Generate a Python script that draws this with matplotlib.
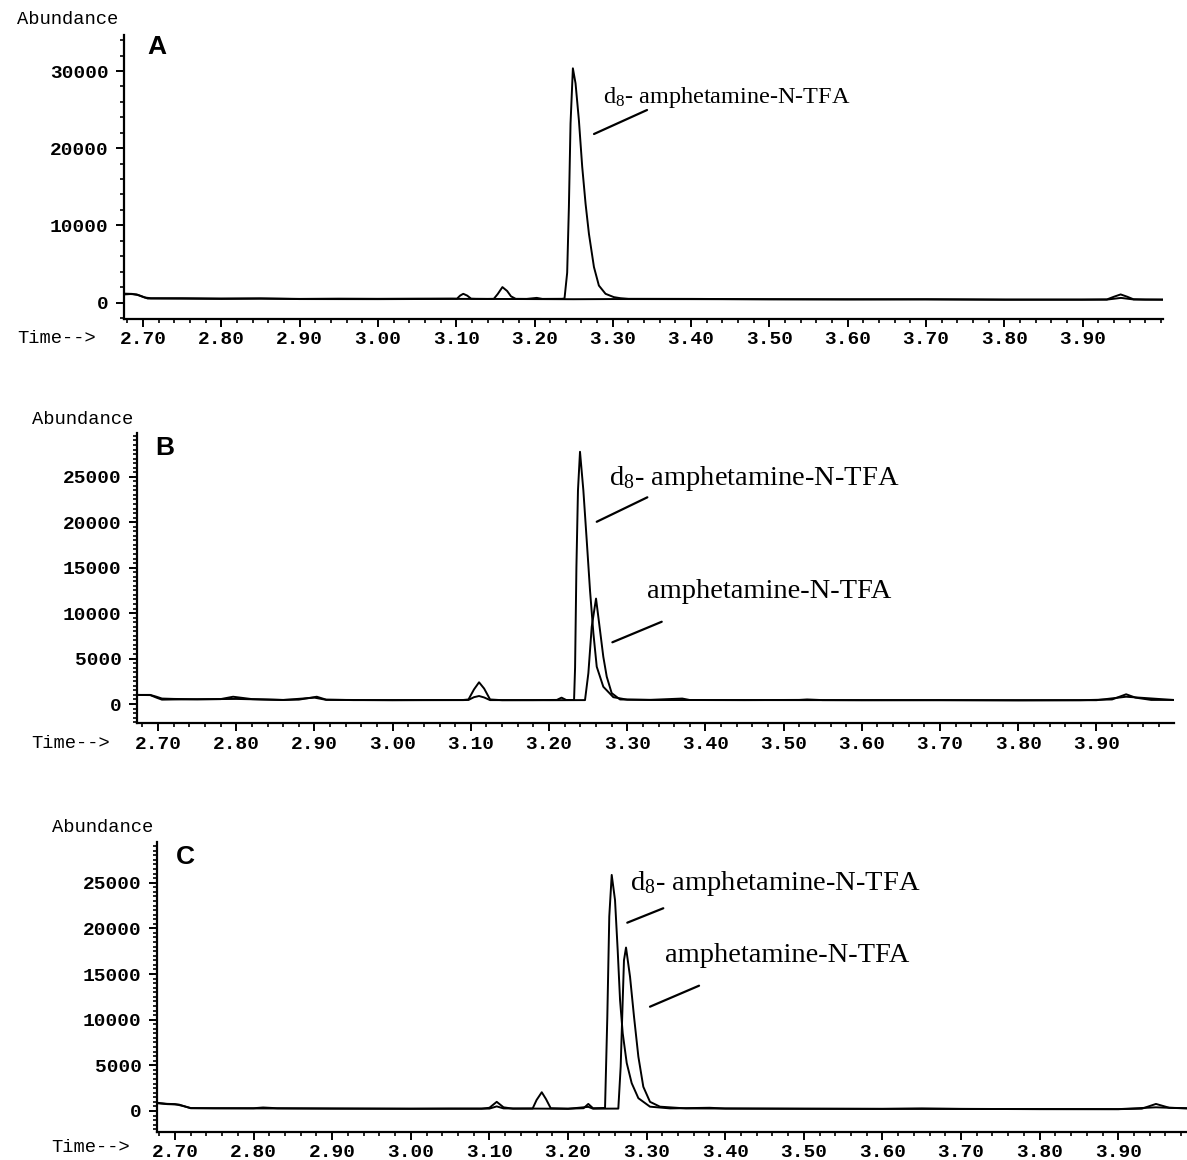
import matplotlib
matplotlib.use('Agg')
import matplotlib.pyplot as plt
from matplotlib.ticker import FixedLocator, MultipleLocator

plt.rcParams['mathtext.fontset'] = 'custom'
plt.rcParams['mathtext.rm'] = 'Liberation Serif'
plt.rcParams['mathtext.it'] = 'Liberation Serif:italic'

x_ticks = [2.70, 2.80, 2.90, 3.00, 3.10, 3.20, 3.30, 3.40, 3.50, 3.60, 3.70, 3.80, 3.90]

# painel A
a_time_1 = [2.676, 2.686, 2.694, 2.702, 2.71, 2.75, 2.80, 2.85, 2.90, 2.95, 3.00, 3.05, 3.095,
            3.101, 3.105, 3.109, 3.114, 3.119, 3.125, 3.14, 3.148, 3.153, 3.159, 3.165, 3.170,
            3.176, 3.19, 3.2028, 3.21, 3.235, 3.2383, 3.2417, 3.2439, 3.2460, 3.2490, 3.2524,
            3.2567, 3.2609, 3.2652, 3.2695, 3.2759, 3.2822, 3.2907, 3.3013, 3.3098, 3.32, 3.40,
            3.50, 3.60, 3.70, 3.80, 3.90, 3.931, 3.940, 3.9486, 3.957, 3.965, 3.98, 4.002]
a_abund_1 = [1150, 1120, 950, 650, 560, 560, 520, 540, 470, 500, 480, 500, 510,
             500, 900, 1130, 900, 500, 480, 470, 480, 1100, 2000, 1500, 800,
             480, 470, 600, 470, 480, 520, 3860, 12380, 23200, 30350, 28400,
             23600, 17600, 12800, 8900, 4600, 2200, 1130, 700, 560, 480, 470,
             430, 420, 420, 380, 380, 400, 750, 1050, 750, 420, 380, 380]
a_time_2 = [2.676, 2.684, 2.692, 2.700, 2.706, 2.75, 2.80, 2.85, 2.90, 3.00, 3.10, 3.16, 3.25,
            3.30, 3.40, 3.50, 3.60, 3.70, 3.80, 3.90, 3.931, 3.949, 3.965, 4.002]
a_abund_2 = [1050, 1100, 1050, 750, 520, 500, 470, 500, 450, 440, 470, 460, 430,
             450, 440, 420, 400, 410, 370, 370, 380, 600, 400, 370]

# painel B
b_time_1 = [2.673, 2.690, 2.698, 2.705, 2.72, 2.75, 2.78, 2.796, 2.82, 2.86, 2.88, 2.903, 2.915,
            2.95, 3.00, 3.05, 3.09, 3.097, 3.104, 3.1105, 3.117, 3.1246, 3.14, 3.18, 3.21,
            3.216, 3.222, 3.2320, 3.2333, 3.2350, 3.2370, 3.2396, 3.2439, 3.2482, 3.2524,
            3.2567, 3.2610, 3.2694, 3.2822, 3.30, 3.33, 3.3704, 3.38, 3.45, 3.52, 3.53, 3.55,
            3.60, 3.70, 3.80, 3.88, 3.92, 3.938, 3.95, 3.97, 3.999]
b_abund_1 = [1000, 1000, 800, 600, 560, 520, 540, 800, 540, 450, 480, 800, 480,
             430, 430, 440, 440, 500, 1600, 2390, 1700, 500, 420, 430, 450,
             700, 440, 440, 4000, 15000, 23500, 27750, 23500, 18000, 12500,
             7800, 4100, 1900, 750, 480, 460, 600, 440, 430, 450, 500, 430,
             420, 430, 400, 420, 500, 1070, 700, 450, 450]
b_time_2 = [2.673, 2.690, 2.698, 2.705, 2.72, 2.75, 2.80, 2.86, 2.90, 2.915, 3.00, 3.09, 3.097,
            3.104, 3.1105, 3.117, 3.1246, 3.20, 3.2460, 3.2503, 3.2546, 3.2601, 3.2652, 3.2694,
            3.2738, 3.2801, 3.2908, 3.33, 3.50, 3.70, 3.90, 3.938, 3.999]
b_abund_2 = [1000, 980, 700, 480, 500, 520, 560, 440, 700, 460, 420, 430, 450,
             750, 880, 720, 430, 420, 430, 3400, 8500, 11600, 8100, 5200,
             3000, 1200, 500, 440, 430, 420, 420, 800, 440]

# painel C
c_time_1 = [2.677, 2.690, 2.700, 2.710, 2.72, 2.75, 2.80, 2.812, 2.83, 2.90, 3.00, 3.05, 3.09,
            3.100, 3.1093, 3.118, 3.13, 3.155, 3.1600, 3.1666, 3.172, 3.178, 3.20, 3.2198,
            3.2258, 3.2318, 3.2471, 3.2500, 3.2525, 3.2556, 3.2598, 3.2632, 3.2662, 3.2696,
            3.2747, 3.2810, 3.2895, 3.3043, 3.33, 3.38, 3.40, 3.50, 3.60, 3.65, 3.70, 3.80,
            3.90, 3.93, 3.948, 3.965, 3.9875]
c_abund_1 = [900, 780, 750, 550, 320, 300, 300, 380, 300, 270, 250, 260, 250,
             350, 1000, 400, 250, 270, 1200, 2050, 1300, 300, 250, 300,
             770, 300, 330, 10300, 21300, 25850, 23100, 17600, 12150, 8500,
             5250, 3050, 1400, 470, 280, 350, 270, 250, 230, 280, 230, 200,
             200, 250, 770, 350, 300]
c_time_2 = [2.677, 2.690, 2.705, 2.72, 2.80, 2.90, 3.00, 3.10, 3.1093, 3.118, 3.20, 3.2258,
            3.2318, 3.2640, 3.2670, 3.2696, 3.2712, 3.2738, 3.2789, 3.2840, 3.2895, 3.2958,
            3.3043, 3.3170, 3.35, 3.50, 3.70, 3.90, 3.948, 3.9875]
c_abund_2 = [850, 750, 700, 300, 280, 260, 240, 260, 500, 280, 240, 450,
             250, 260, 4850, 12150, 16500, 17900, 14700, 10300, 5950, 2650,
             1000, 470, 280, 240, 220, 200, 400, 280]

label_d8 = 'd$_\\mathrm{8}$- amphetamine-N-TFA'
label_amp = 'amphetamine-N-TFA'


def painel(fig, rect, xlim, ylim, yticks, yminor, traces, letra, letra_px,
           abund_px, time_px, rotulos, fs_rot):
    ax = fig.add_axes(rect)
    for t, a in traces:
        ax.plot(t, a, color='black', lw=1.4)
    ax.set_xlim(*xlim)
    ax.set_ylim(*ylim)
    for s in ['top', 'right']:
        ax.spines[s].set_visible(False)
    for s in ['left', 'bottom']:
        ax.spines[s].set_linewidth(1.6)

    ax.xaxis.set_major_locator(FixedLocator(x_ticks))
    ax.set_xticklabels(['%.2f' % v for v in x_ticks])
    ax.xaxis.set_minor_locator(MultipleLocator(0.02))
    ax.yaxis.set_major_locator(FixedLocator(yticks))
    ax.set_yticklabels([str(v) for v in yticks])
    ax.yaxis.set_minor_locator(MultipleLocator(yminor))
    ax.tick_params(which='major', direction='out', length=6, width=1.4, pad=3)
    ax.tick_params(which='minor', direction='out', length=3, width=1.2)
    ax.tick_params(axis='y', which='major', pad=5)
    for lab in ax.get_xticklabels() + ax.get_yticklabels():
        lab.set_fontfamily('Liberation Mono')
        lab.set_fontweight('bold')
        lab.set_fontsize(14)

    W, H = 1187.0, 1160.0
    fig.text(letra_px[0] / W, 1 - letra_px[1] / H, letra, family='Liberation Sans',
             weight='bold', fontsize=19, ha='center', va='center')
    fig.text(abund_px[0] / W, 1 - abund_px[1] / H, 'Abundance', family='Liberation Mono',
             fontsize=13.5, ha='right', va='center')
    fig.text(time_px[0] / W, 1 - time_px[1] / H, 'Time-->', family='Liberation Mono',
             fontsize=13.5, ha='right', va='center')

    for texto, pos, p0, p1 in rotulos:
        ax.text(pos[0], pos[1], texto, family='Liberation Serif', fontsize=fs_rot,
                ha='left', va='baseline')
        ax.annotate('', xy=p1, xytext=p0,
                    arrowprops=dict(arrowstyle='-', lw=1.6, color='black',
                                    shrinkA=0, shrinkB=0))
    return ax


fig = plt.figure(figsize=(11.87, 11.6), dpi=100)

painel(fig, [0.10447, 0.72543, 0.87532, 0.24440], (2.6757, 4.0027), (-2070, 34670),
       [0, 10000, 20000, 30000], 2000,
       [(a_time_2, a_abund_2), (a_time_1, a_abund_1)], 'A', (157, 47), (118, 20), (96, 338),
       [(label_d8, (3.2875, 25850), (3.276, 21840), (3.3437, 24950))], 17.5)

painel(fig, [0.11542, 0.37672, 0.87363, 0.25043], (2.6731, 3.9992), (-2090, 29870),
       [0, 5000, 10000, 15000, 20000, 25000], 500,
       [(b_time_2, b_abund_2), (b_time_1, b_abund_1)], 'B', (165, 448), (133, 420), (110, 743),
       [(label_d8, (3.2771, 24090), (3.261, 20050), (3.3257, 22740)),
        (label_amp, (3.3249, 11630), (3.2810, 6790), (3.3441, 9050))], 20.5)

painel(fig, [0.13227, 0.02440, 0.86773, 0.25000], (2.6771, 3.9875), (-2270, 29490),
       [0, 5000, 10000, 15000, 20000, 25000], 500,
       [(c_time_2, c_abund_2), (c_time_1, c_abund_1)], 'C', (185, 857), (153, 828), (130, 1148),
       [(label_d8, (3.2789, 24200), (3.2754, 20620), (3.3212, 22200)),
        (label_amp, (3.3234, 16350), (3.3043, 11420), (3.3667, 13720))], 20.5)

fig.savefig('out.png', dpi=100)
